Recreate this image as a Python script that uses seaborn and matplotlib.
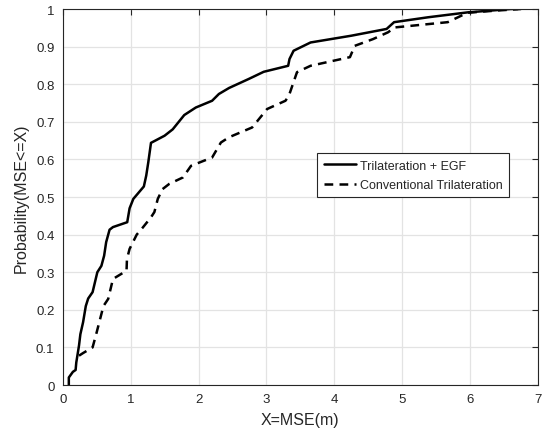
import numpy as np
import pandas as pd
import matplotlib
matplotlib.use('Agg')
import matplotlib.pyplot as plt
import seaborn as sns

# CDF curves
egf_x = [0.09, 0.09, 0.15, 0.19, 0.20, 0.24, 0.26, 0.30, 0.34, 0.375, 0.44, 0.51, 0.57, 0.61,
         0.64, 0.69, 0.74, 0.95, 0.985, 1.04, 1.195, 1.23, 1.26, 1.30, 1.50, 1.62, 1.79, 1.96,
         2.20, 2.30, 2.45, 2.74, 2.96, 3.32, 3.34, 3.40, 3.65, 4.25, 4.77, 4.88, 5.38, 5.96,
         6.60, 6.70]
egf_y = [0.0, 0.02, 0.035, 0.04, 0.06, 0.105, 0.135, 0.167, 0.21, 0.23, 0.247, 0.30, 0.317, 0.344,
         0.38, 0.413, 0.42, 0.433, 0.47, 0.495, 0.528, 0.557, 0.592, 0.644, 0.663, 0.68, 0.718, 0.738,
         0.756, 0.774, 0.79, 0.814, 0.833, 0.849, 0.867, 0.889, 0.911, 0.929, 0.947, 0.965, 0.978, 0.991,
         1.0, 1.0]

conv_x = [0.24, 0.30, 0.44, 0.50, 0.57, 0.60, 0.67, 0.74, 0.94, 0.946, 0.985, 1.09, 1.18, 1.30,
          1.35, 1.40, 1.47, 1.57, 1.77, 1.89, 2.20, 2.33, 2.45, 2.79, 3.01, 3.28, 3.33, 3.45,
          3.65, 4.23, 4.30, 4.57, 4.79, 4.89, 5.67, 5.96, 6.40, 6.75]
conv_y = [0.078, 0.085, 0.10, 0.14, 0.189, 0.21, 0.229, 0.282, 0.304, 0.335, 0.362, 0.40, 0.419, 0.446,
          0.46, 0.495, 0.521, 0.535, 0.552, 0.583, 0.605, 0.645, 0.659, 0.685, 0.734, 0.756, 0.769, 0.832,
          0.849, 0.872, 0.902, 0.92, 0.938, 0.951, 0.965, 0.99, 0.996, 1.0]

series_names = ['Trilateration + EGF', 'Conventional Trilateration']
x_ticks = [0, 1, 2, 3, 4, 5, 6, 7]
y_ticks = [0, 0.1, 0.2, 0.3, 0.4, 0.5, 0.6, 0.7, 0.8, 0.9, 1]
y_tick_labels = ['0', '0.1', '0.2', '0.3', '0.4', '0.5', '0.6', '0.7', '0.8', '0.9', '1']

df = pd.concat([
    pd.DataFrame({'x': egf_x, 'y': egf_y, 'method': series_names[0]}),
    pd.DataFrame({'x': conv_x, 'y': conv_y, 'method': series_names[1]}),
], ignore_index=True)

sns.set_style('white')
plt.rcParams['font.family'] = ['Liberation Sans', 'DejaVu Sans']

dash_pat = (3.5, 2.5)

fig = plt.figure(figsize=(5.42, 4.39), dpi=100)
ax = fig.add_axes([0.1157, 0.1207, 0.877, 0.8565])

sns.lineplot(data=df, x='x', y='y', style='method', units='method', estimator=None, sort=False,
             color='black', linewidth=1.8,
             dashes={series_names[0]: '', series_names[1]: dash_pat},
             ax=ax, legend=False)

ax.set_xlim(0, 7)
ax.set_ylim(0, 1)
ax.set_xticks(x_ticks)
ax.set_yticks(y_ticks)
ax.set_yticklabels(y_tick_labels)
ax.grid(True, color='#e3e3e3', linewidth=0.9)
ax.set_axisbelow(True)
for s in ax.spines.values():
    s.set_visible(True)
    s.set_color('#262626')
    s.set_linewidth(0.8)
ax.tick_params(direction='in', length=4, width=0.8, top=True, right=True,
               labelsize=9.5, labelcolor='#262626', color='#262626', pad=6)

ax.set_xlabel('X=MSE(m)', fontsize=11.5, color='#262626', labelpad=5)
ax.set_ylabel('Probability(MSE<=X)', fontsize=11.5, color='#262626', labelpad=5)

handles = [plt.Line2D([], [], color='black', lw=1.8),
           plt.Line2D([], [], color='black', lw=1.8, dashes=dash_pat)]
leg = ax.legend(handles, series_names, loc='upper left', bbox_to_anchor=(0.536, 0.616),
                fontsize=9.0, frameon=True, fancybox=False, framealpha=1,
                edgecolor='#262626', handlelength=2.6, handletextpad=0.3,
                borderpad=0.5, labelspacing=0.6, borderaxespad=0)
leg.get_frame().set_linewidth(0.8)

plt.savefig('out.png', dpi=100)
